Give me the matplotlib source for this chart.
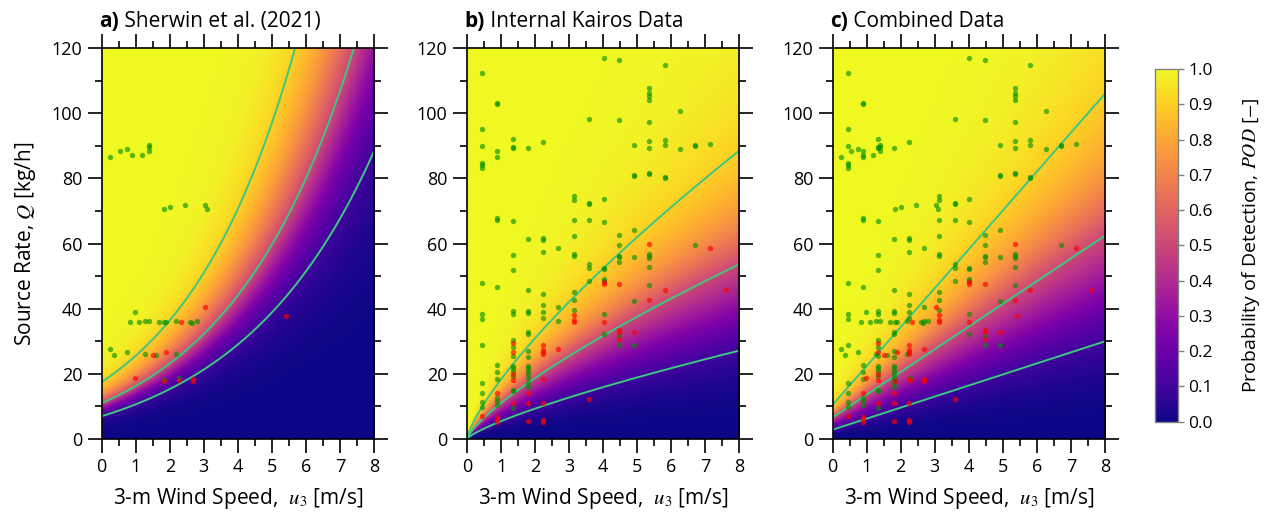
import numpy as np
import matplotlib
matplotlib.use('Agg')
import matplotlib.pyplot as plt
from matplotlib.ticker import MultipleLocator

plt.rcParams['font.family'] = ['Open Sans', 'DejaVu Sans']
plt.rcParams['mathtext.fontset'] = 'stix'
plt.rcParams['font.size'] = 13

POD_LEVELS = [0.1, 0.5, 0.9]

# Sherwin et al. (2021) controlled releases: wind speed [m/s], rate [kg/h], detected?
sherwin_u = [0.24, 0.54, 0.73, 0.88, 1.19, 1.40, 1.40, 1.40, 1.84, 2.01, 2.45, 3.04, 3.09,
             0.98, 0.83, 1.10, 1.28, 1.40, 1.67, 1.84, 1.90, 2.18, 2.60, 2.66, 2.81,
             0.25, 0.35, 0.73, 1.28, 1.59, 2.18, 1.83, 2.27,
             2.33, 3.04, 1.52, 1.89, 0.98, 1.83, 2.27, 2.69, 2.69, 5.42]
sherwin_q = [86.6, 88.3, 89.1, 87.1, 87.1, 90.1, 89.5, 88.3, 70.7, 71.1, 71.7, 71.9, 70.7,
             39.1, 36.0, 36.0, 36.2, 36.2, 36.0, 36.0, 36.0, 36.2, 36.0, 35.5, 36.3,
             27.5, 25.8, 26.7, 26.1, 25.8, 26.1, 18.1, 18.7,
             35.8, 40.5, 25.8, 26.6, 18.6, 17.7, 18.2, 18.5, 17.7, 37.6]
sherwin_det = [1] * 33 + [0] * 10

# Internal Kairos releases, wind speed binned in whole mph
kairos_u = ([0.45] * 15 + [0.89] * 17 + [1.34] * 23 + [1.79] * 19 + [2.24] * 16 + [2.68] * 4
            + [3.13] * 12 + [3.58] * 8 + [4.02] * 12 + [4.47] * 13 + [4.92] * 8 + [5.36] * 16
            + [5.81] * 6 + [6.26] * 2 + [6.71] * 3 + [7.15] * 2 + [7.60] * 1)
kairos_q = [112.4, 95.0, 90.0, 84.8, 84.0, 83.3, 47.8, 38.5, 36.8, 28.7, 17.1, 14.1, 11.3, 9.8, 7.0,
            103.2, 102.7, 88.3, 86.5, 67.7, 67.1, 46.5, 22.6, 20.7, 18.4, 12.7, 11.7, 10.5,
            14.1, 6.8, 6.0, 5.3,
            92.1, 89.7, 89.3, 66.9, 56.6, 52.0, 39.2, 38.5, 30.5, 28.2, 25.4, 22.5, 21.8, 21.0,
            19.2, 15.1, 14.6, 9.5, 29.5, 26.7, 20.0, 18.2, 11.0,
            89.3, 61.5, 45.6, 39.4, 38.6, 32.8, 32.2, 26.9, 25.2, 22.5, 21.9, 21.0, 20.0, 18.7,
            17.2, 15.9, 14.1, 11.0, 5.6,
            91.2, 61.8, 61.2, 57.3, 44.4, 41.0, 38.9, 37.1, 28.7, 27.4, 26.7, 26.1, 18.4, 11.0,
            5.7, 5.2,
            58.5, 40.4, 36.2, 27.5,
            74.5, 73.5, 67.2, 62.4, 56.8, 56.2, 45.0, 42.8, 39.7, 38.2, 36.6, 36.0,
            98.2, 72.4, 72.2, 67.3, 53.8, 52.5, 48.6, 12.3,
            116.8, 73.8, 66.6, 52.6, 52.2, 49.1, 48.4, 38.4, 32.2, 48.1, 47.7, 35.9,
            116.3, 97.9, 62.5, 59.6, 56.3, 55.9, 54.2, 31.5, 28.7, 47.6, 33.6, 32.9, 30.6,
            90.1, 80.9, 80.6, 64.0, 55.8, 42.3, 28.7, 32.7,
            107.7, 106.2, 105.2, 104.1, 97.3, 91.6, 89.4, 81.6, 81.2, 56.7, 56.1, 55.6, 52.7,
            47.3, 60.0, 42.6,
            114.7, 91.9, 90.3, 80.5, 80.1, 45.7,
            100.6, 89.0,
            90.2, 89.9, 59.4,
            90.6, 58.6,
            45.6]
kairos_det = ([1] * 14 + [0] * 1 + [1] * 13 + [0] * 4 + [1] * 18 + [0] * 5 + [1] * 16 + [0] * 3
              + [1] * 8 + [0] * 8 + [1] * 3 + [0] * 1 + [1] * 9 + [0] * 3 + [1] * 7 + [0] * 1
              + [1] * 9 + [0] * 3 + [1] * 9 + [0] * 4 + [1] * 7 + [0] * 1 + [1] * 14 + [0] * 2
              + [1] * 5 + [0] * 1 + [1] * 2 + [1] * 3 + [1] * 1 + [0] * 1 + [0] * 1)

# fitted POD contours (10 %, 50 %, 90 %)
sherwin_shift = 6.0          # Q + 6 = a * exp(b * u)
sherwin_a = [13.0, 17.0, 23.5]
sherwin_b = [0.2477, 0.2703, 0.2956]
kairos_c = [5.47, 11.05, 18.3]   # Q = c * u ** e
kairos_e = [0.77, 0.76, 0.758]
combined_i = [2.86, 6.65, 10.5]  # Q = i + s * u
combined_s = [3.39, 6.97, 11.93]

u_grid = np.linspace(0.001, 8, 400)
q_grid = np.linspace(0.05, 120, 600)
U, Q = np.meshgrid(u_grid, q_grid)


def pod_surface(lnq, contours):
    """Logit-linear POD between the 10/50/90 % contour curves."""
    lo, mid, hi = contours
    k = np.log(9.0)
    logit = np.where(lnq < mid, k * (lnq - mid) / (mid - lo), k * (lnq - mid) / (hi - mid))
    return 1.0 / (1.0 + np.exp(-np.clip(logit, -50, 50)))


pod_a = pod_surface(np.log(Q + sherwin_shift),
                    [np.log(a) + b * U for a, b in zip(sherwin_a, sherwin_b)])
pod_b = pod_surface(np.log(Q), [np.log(c) + e * np.log(U) for c, e in zip(kairos_c, kairos_e)])
pod_c = pod_surface(np.log(Q), [np.log(i + s * U) for i, s in zip(combined_i, combined_s)])

comb_u = sherwin_u + kairos_u
comb_q = sherwin_q + kairos_q
comb_det = sherwin_det + kairos_det

panels = [
    ('a)', 'Sherwin et al. (2021)', pod_a, sherwin_u, sherwin_q, sherwin_det),
    ('b)', 'Internal Kairos Data', pod_b, kairos_u, kairos_q, kairos_det),
    ('c)', 'Combined Data', pod_c, comb_u, comb_q, comb_det),
]

fig = plt.figure(figsize=(12.67, 5.14), dpi=100)
lefts = [0.0803, 0.3686, 0.6572]

for left, (tag, title, pod, u, q, det) in zip(lefts, panels):
    ax = fig.add_axes([left, 0.1459, 0.2149, 0.7607])
    im = ax.imshow(pod, extent=[0, 8, 0, 120], origin='lower', aspect='auto',
                   cmap='plasma', vmin=0, vmax=1, interpolation='bilinear', zorder=0)
    ax.contour(U, Q, pod, levels=POD_LEVELS, colors='#3cc880', linewidths=1.4, zorder=2)

    u = np.array(u)
    q = np.array(q)
    det = np.array(det, dtype=bool)
    ax.scatter(u[det], q[det], s=15, color='#009000', alpha=0.62, linewidths=0, zorder=3)
    ax.scatter(u[~det], q[~det], s=15, color='#ff0000', alpha=0.65, linewidths=0, zorder=3)

    ax.set_xlim(0, 8)
    ax.set_ylim(0, 120)
    ax.set_xticks(range(9))
    ax.set_yticks(range(0, 121, 20))
    ax.xaxis.set_minor_locator(MultipleLocator(0.5))
    ax.yaxis.set_minor_locator(MultipleLocator(10))
    ax.tick_params(which='both', direction='out', top=True, right=True, width=1.2)
    ax.tick_params(which='major', length=10, pad=4)
    ax.tick_params(which='minor', length=5)
    for sp in ax.spines.values():
        sp.set_linewidth(1.2)

    ax.set_xlabel(r'3-m Wind Speed,  $u_3$ [m/s]', fontsize=15, labelpad=7)
    if tag == 'a)':
        ax.set_ylabel(r'Source Rate, $Q$ [kg/h]', fontsize=15, labelpad=10)

    t = ax.text(-0.008, 1.054, tag, transform=ax.transAxes, fontsize=15,
                fontweight='bold', va='baseline', ha='left')
    ax.annotate(' ' + title, xy=(1, 0), xycoords=t, fontsize=15, va='bottom', ha='left')

cax = fig.add_axes([0.9116, 0.1796, 0.0179, 0.6862])
cb = fig.colorbar(im, cax=cax, ticks=np.arange(0, 1.01, 0.1), format='%.1f')
cb.outline.set_edgecolor('#808080')
cb.outline.set_linewidth(1.0)
cax.tick_params(direction='out', length=4, width=1.0, color='#808080', labelsize=12.5)
cb.set_label(r'Probability of Detection, $POD$ [$-$]', fontsize=14, labelpad=20)

fig.savefig('out.png', dpi=100)
